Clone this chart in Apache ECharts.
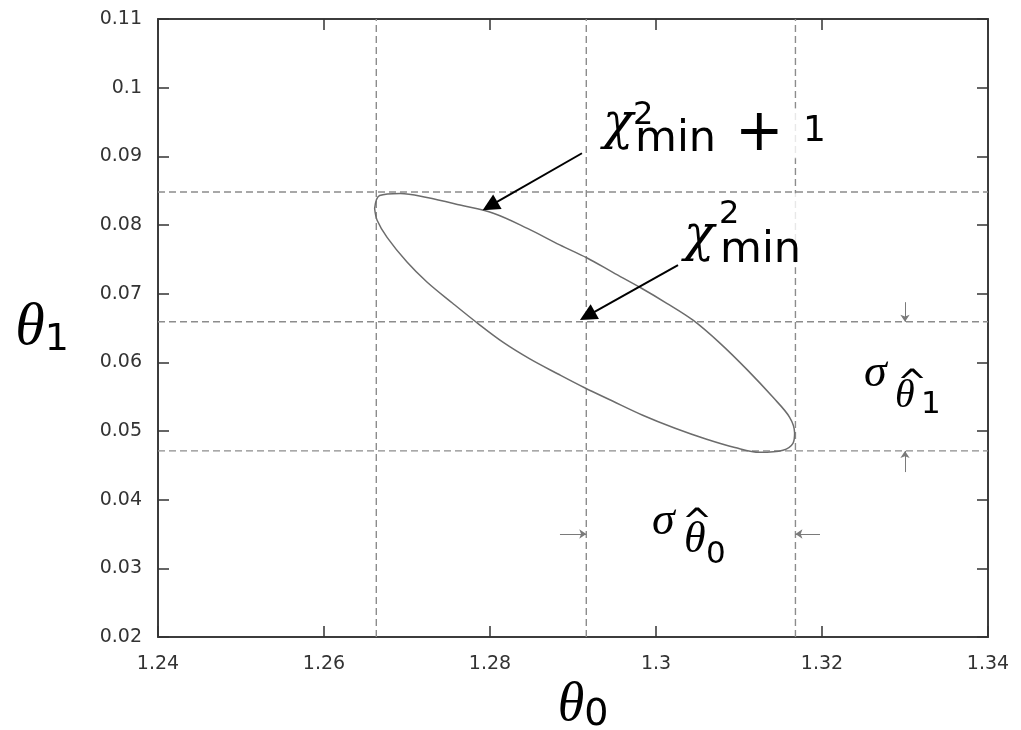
<!DOCTYPE html>
<html><head><meta charset="utf-8">
<script src="https://cdn.jsdelivr.net/npm/echarts@6/dist/echarts.min.js"></script>
<style>html,body{margin:0;padding:0;background:#fff}#c{width:1021px;height:730px}</style>
</head><body><div id="c"></div>
<script>
// ---- data ----
const xTicks = [1.24, 1.26, 1.28, 1.30, 1.32, 1.34];
const yTicks = [0.02, 0.03, 0.04, 0.05, 0.06, 0.07, 0.08, 0.09, 0.10, 0.11];
// chi^2_min + 1 contour (theta0, theta1)
const contourTheta0 = [1.2661,1.2667,1.2692,1.2724,1.2764,1.2804,1.2845,1.2884,1.2917,1.2948,1.2981,1.3013,1.3045,1.3077,1.3110,1.3141,1.3161,1.3167,1.3165,1.3153,1.3125,1.3095,1.3061,1.3023,1.2984,1.2947,1.2914,1.2882,1.2848,1.2816,1.2786,1.2755,1.2724,1.2700,1.2676,1.2664,1.2661];
const contourTheta1 = [0.0824,0.0843,0.0846,0.0840,0.0829,0.0817,0.0795,0.0771,0.0752,0.0731,0.0709,0.0686,0.0661,0.0628,0.0589,0.0549,0.0520,0.0497,0.0482,0.0472,0.0469,0.0476,0.0488,0.0504,0.0523,0.0544,0.0563,0.0583,0.0605,0.0629,0.0656,0.0686,0.0717,0.0746,0.0782,0.0807,0.0824];
// dashed reference lines: lower bound, best fit, upper bound
const theta0Lines = [1.2663, 1.2916, 1.3168];
const theta1Lines = [0.0471, 0.0659, 0.0848];
// black annotation arrows: start (theta0, theta1) and arrow-head centre
const arrowFrom0 = [1.29108, 1.30265];
const arrowFrom1 = [0.09045, 0.07415];
const arrowTo0 = [1.28000, 1.29173];
const arrowTo1 = [0.08277, 0.06678];
// small sigma arrows: start points (tips on dashed lines)
const sigma0ArrowY = 0.0350;
const sigma0ArrowStart = [1.28843, 1.31976];
const sigma1ArrowX = 1.3300;
const sigma1ArrowStart = [0.06876, 0.04402];
// annotation text pieces
const annText = ['χ', '2', 'min', '+', '1', 'χ', '2', 'min', 'σ', 'θ', '^', '0', 'σ', 'θ', '^', '1'];
const annRole = ['chi', 'supNum', 'subWord', 'plus', 'num', 'chi', 'supNum', 'subWord', 'sigma', 'thetaHat', 'hat', 'idxNum', 'sigma', 'thetaHatS', 'hat', 'idxNum'];
const annX = [1.29361, 1.29723, 1.29747, 1.30952, 1.31771, 1.30337, 1.30759, 1.30771, 1.29952, 1.30337, 1.30313, 1.30602, 1.32506, 1.32880, 1.32904, 1.33193];
const annY = [0.09453, 0.09598, 0.09234, 0.09307, 0.09366, 0.07822, 0.08157, 0.07621, 0.03674, 0.03412, 0.03645, 0.03194, 0.05828, 0.05508, 0.05668, 0.05377];
// where the two chi^2 labels sit over the dashed line (left edge, middle)
const maskX = [1.30867, 1.30723];
const maskY = [0.09336, 0.07924];

// ---- styles ----
const SERIF = "'Liberation Serif', 'DejaVu Serif', serif";
const SANS = "'DejaVu Sans', 'Liberation Sans', sans-serif";
const roleStyle = {
  chi: {fontFamily: "'DejaVu Serif', serif", fontStyle: 'italic', fontSize: 50},
  supNum: {fontFamily: SANS, fontSize: 32},
  subWord: {fontFamily: SANS, fontSize: 43},
  plus: {fontFamily: SANS, fontSize: 58},
  num: {fontFamily: SANS, fontSize: 36},
  sigma: {fontFamily: SERIF, fontStyle: 'italic', fontSize: 46},
  thetaHat: {fontFamily: SERIF, fontStyle: 'italic', fontSize: 44},
  thetaHatS: {fontFamily: SERIF, fontStyle: 'italic', fontSize: 40},
  hat: {fontFamily: SANS, fontSize: 36},
  idxNum: {fontFamily: SANS, fontSize: 31}
};
const maskSize = [[75, 50], [88, 74]];

const fmt = v => String(+(+v).toFixed(4));
const xInt = +(xTicks[1] - xTicks[0]).toFixed(4);
const yInt = +(yTicks[1] - yTicks[0]).toFixed(4);
const yMin = yTicks[0], yMax = yTicks[yTicks.length - 1];
const xMin = xTicks[0], xMax = xTicks[xTicks.length - 1];

const axisCommon = {
  type: 'value', splitLine: {show: false},
  axisLine: {show: true, onZero: false, lineStyle: {color: '#3c3c3c', width: 2}},
  axisTick: {show: true, inside: true, length: 11, lineStyle: {color: '#333', width: 1.5}}
};
const labelStyle = {color: '#333', fontFamily: SANS, fontSize: 19, formatter: fmt};

const series = [];
const dashStyle = {color: '#8c8c8c', width: 1.4, type: [7, 4]};
theta0Lines.forEach(v => series.push({
  type: 'line', data: [[v, yMin], [v, yMax]], symbol: 'none', silent: true, z: 2,
  lineStyle: dashStyle
}));
theta1Lines.forEach(v => series.push({
  type: 'line', data: [[xMin, v], [xMax, v]], symbol: 'none', silent: true, z: 2,
  lineStyle: dashStyle
}));
series.push({
  type: 'line', name: 'contour', data: contourTheta0.map((x, i) => [x, contourTheta1[i]]),
  symbol: 'none', smooth: 0.35, silent: true, z: 3,
  lineStyle: {color: '#6c6c6c', width: 1.5}
});
series.push({
  type: 'lines', coordinateSystem: 'cartesian2d', silent: true, z: 6,
  symbol: ['none', 'triangle'], symbolSize: [0, 17],
  lineStyle: {color: '#000', width: 2, opacity: 1, curveness: 0},
  data: arrowFrom0.map((x, i) => ({coords: [[x, arrowFrom1[i]], [arrowTo0[i], arrowTo1[i]]]}))
});
const smallArrows = [
  [[sigma0ArrowStart[0], sigma0ArrowY], [theta0Lines[1], sigma0ArrowY]],
  [[sigma0ArrowStart[1], sigma0ArrowY], [theta0Lines[2], sigma0ArrowY]],
  [[sigma1ArrowX, sigma1ArrowStart[0]], [sigma1ArrowX, theta1Lines[1]]],
  [[sigma1ArrowX, sigma1ArrowStart[1]], [sigma1ArrowX, theta1Lines[0]]]
];
series.push({
  type: 'lines', coordinateSystem: 'cartesian2d', silent: true, z: 6,
  symbol: ['none', 'arrow'], symbolSize: [0, 7],
  lineStyle: {color: '#7a7a7a', width: 1, opacity: 1, curveness: 0},
  data: smallArrows.map(c => ({coords: c}))
});
// white boxes behind the chi^2 labels
series.push({
  type: 'scatter', silent: true, z: 7, clip: false, symbolSize: 0,
  emphasis: {disabled: true},
  data: maskX.map((x, i) => ({
    value: [x, maskY[i]],
    label: {show: true, formatter: ' ', position: [0, 0], align: 'left', verticalAlign: 'middle',
      width: maskSize[i][0], height: maskSize[i][1], backgroundColor: '#fff'}
  }))
});
series.push({
  type: 'scatter', silent: true, z: 8, clip: false, symbolSize: 0,
  itemStyle: {color: '#000', opacity: 1},
  emphasis: {disabled: true},
  data: annText.map((t, i) => ({
    value: [annX[i], annY[i]],
    label: Object.assign({
      show: true, formatter: t, position: [0, 0], align: 'left', verticalAlign: 'middle',
      color: '#000', opacity: 1, textBorderWidth: 0
    }, roleStyle[annRole[i]])
  }))
});

const option = {
  animation: false,
  backgroundColor: '#fff',
  grid: {left: 158, right: 33, top: 19, bottom: 93, containLabel: false, outerBoundsMode: 'none'},
  xAxis: [
    Object.assign({}, axisCommon, {
      min: xMin, max: xMax, interval: xInt, position: 'bottom',
      axisLabel: Object.assign({margin: 18}, labelStyle),
      name: '{t|θ}{s|0}', nameLocation: 'middle', nameGap: 40,
      nameTextStyle: {padding: [0, 0, 0, 20], rich: {
        t: {fontFamily: SERIF, fontStyle: 'italic', fontSize: 54, lineHeight: 56, color: '#000'},
        s: {fontFamily: SANS, fontSize: 38, lineHeight: 28, verticalAlign: 'bottom', color: '#000'}
      }}
    }),
    Object.assign({}, axisCommon, {
      min: xMin, max: xMax, interval: xInt, position: 'top', axisLabel: {show: false}
    })
  ],
  yAxis: [
    Object.assign({}, axisCommon, {
      min: yMin, max: yMax, interval: yInt, position: 'left',
      axisLabel: Object.assign({margin: 16}, labelStyle),
      name: '{t|θ}{s|1}', nameLocation: 'middle', nameGap: 89, nameRotate: 0,
      nameTextStyle: {rich: {
        t: {fontFamily: SERIF, fontStyle: 'italic', fontSize: 60, lineHeight: 62, color: '#000'},
        s: {fontFamily: SANS, fontSize: 38, lineHeight: 22, verticalAlign: 'bottom', color: '#000'}
      }}
    }),
    Object.assign({}, axisCommon, {
      min: yMin, max: yMax, interval: yInt, position: 'right', axisLabel: {show: false}
    })
  ],
  series: series
};
const chart = echarts.init(document.getElementById('c'), null, {renderer: 'canvas'});
chart.setOption(option);
</script>
</body></html>
